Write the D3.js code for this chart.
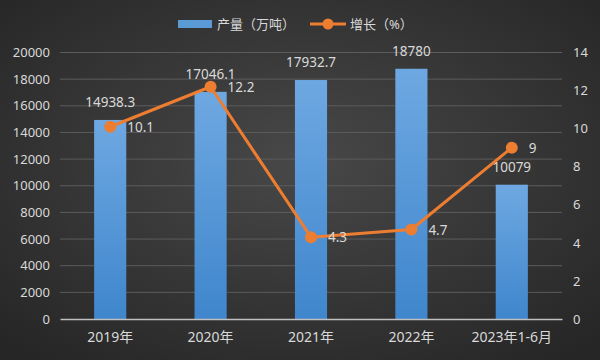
<!DOCTYPE html>
<html><head><meta charset="utf-8">
<script src="https://cdn.jsdelivr.net/npm/d3@7"></script>
<style>body{margin:0;background:#2b2b2b}svg{display:block}</style>
</head><body>
<svg id="c" width="600" height="360"></svg>
<script>
const categories = ["2019年","2020年","2021年","2022年","2023年1-6月"];
const output = [14938.3, 17046.1, 17932.7, 18780, 10079];
const growth = [10.1, 12.2, 4.3, 4.7, 9];
const leftTicks = [0,2000,4000,6000,8000,10000,12000,14000,16000,18000,20000];
const rightTicks = [0,2,4,6,8,10,12,14];
const legendLabels = ["产量（万吨）","增长（%）"];

const svg = d3.select("#c");
const W = 600, H = 360;
const font = "'Noto Sans','Noto Sans CJK SC',sans-serif";
const defs = svg.append("defs");
const bg = defs.append("radialGradient").attr("id","bg").attr("cx","50%").attr("cy","45%").attr("r","70%");
bg.append("stop").attr("offset","0%").attr("stop-color","#484848");
bg.append("stop").attr("offset","100%").attr("stop-color","#262626");
const bar = defs.append("linearGradient").attr("id","bar").attr("x1",0).attr("y1",0).attr("x2",0).attr("y2",1);
bar.append("stop").attr("offset","0%").attr("stop-color","#6ea8e2");
bar.append("stop").attr("offset","100%").attr("stop-color","#3f86cc");
svg.append("rect").attr("width",W).attr("height",H).attr("fill","url(#bg)");

const x = d3.scaleBand().domain(categories).range([60,562]).paddingInner(0.68).paddingOuter(0.34);
const yL = d3.scaleLinear().domain([0,20000]).range([319,52.5]);
const yR = d3.scaleLinear().domain([0,14]).range([319,52.5]);

// gridlines
svg.append("g").selectAll("line").data(leftTicks.slice(1)).join("line")
  .attr("x1",60).attr("x2",562).attr("y1",d=>yL(d)).attr("y2",d=>yL(d))
  .attr("stroke","#5c5c5c").attr("stroke-width",1);

// left axis
const gl = svg.append("g").attr("transform","translate(60,0)")
  .call(d3.axisLeft(yL).tickValues(leftTicks).tickSize(0).tickPadding(10).tickFormat(d3.format("d")));
gl.select(".domain").remove();
gl.selectAll("text").attr("fill","#d9d9d9").attr("font-size",13).attr("font-family",font);

// right axis
const gr = svg.append("g").attr("transform","translate(562,0)")
  .call(d3.axisRight(yR).tickValues(rightTicks).tickSize(0).tickPadding(11));
gr.select(".domain").remove();
gr.selectAll("text").attr("fill","#d9d9d9").attr("font-size",13).attr("font-family",font);

// bars
svg.append("g").selectAll("rect").data(output).join("rect")
  .attr("x",(d,i)=>x(categories[i])).attr("width",x.bandwidth())
  .attr("y",d=>yL(d)).attr("height",d=>yL(0)-yL(d)).attr("fill","url(#bar)");

// x axis
const gx = svg.append("g").attr("transform","translate(0,319)")
  .call(d3.axisBottom(x).tickSize(0).tickPadding(13));
gx.select(".domain").attr("stroke","#bfbfbf").attr("stroke-width",1.5);
gx.selectAll("text").attr("fill","#d9d9d9").attr("font-size",14).attr("font-family",font);

// bar labels
svg.append("g").selectAll("text").data(output).join("text")
  .attr("x",(d,i)=>x(categories[i])+x.bandwidth()/2).attr("y",d=>yL(d)-13)
  .attr("text-anchor","middle").attr("fill","#d9d9d9").attr("font-size",13.5).attr("font-family",font)
  .text(d=>d);

// line
const cx = i => x(categories[i])+x.bandwidth()/2;
svg.append("path").datum(growth)
  .attr("d", d3.line().x((d,i)=>cx(i)).y(d=>yR(d)))
  .attr("fill","none").attr("stroke","#ed7d31").attr("stroke-width",3).attr("stroke-linejoin","round");
svg.append("g").selectAll("circle").data(growth).join("circle")
  .attr("cx",(d,i)=>cx(i)).attr("cy",d=>yR(d)).attr("r",6).attr("fill","#ed7d31");
svg.append("g").selectAll("text").data(growth).join("text")
  .attr("x",(d,i)=>cx(i)+17).attr("y",d=>yR(d)+5)
  .attr("fill","#d9d9d9").attr("font-size",13.5).attr("font-family",font)
  .text(d=>d);

// legend
const lg = svg.append("g");
lg.append("rect").attr("x",178).attr("y",20).attr("width",34).attr("height",8).attr("fill","#5b9bd5");
lg.append("text").attr("x",217).attr("y",29).attr("fill","#d9d9d9").attr("font-size",13).attr("font-family",font).text(legendLabels[0]);
lg.append("line").attr("x1",310).attr("x2",346).attr("y1",24).attr("y2",24).attr("stroke","#ed7d31").attr("stroke-width",3);
lg.append("circle").attr("cx",328).attr("cy",24).attr("r",5.5).attr("fill","#ed7d31");
lg.append("text").attr("x",350).attr("y",29).attr("fill","#d9d9d9").attr("font-size",13).attr("font-family",font).text(legendLabels[1]);
</script>
</body></html>
